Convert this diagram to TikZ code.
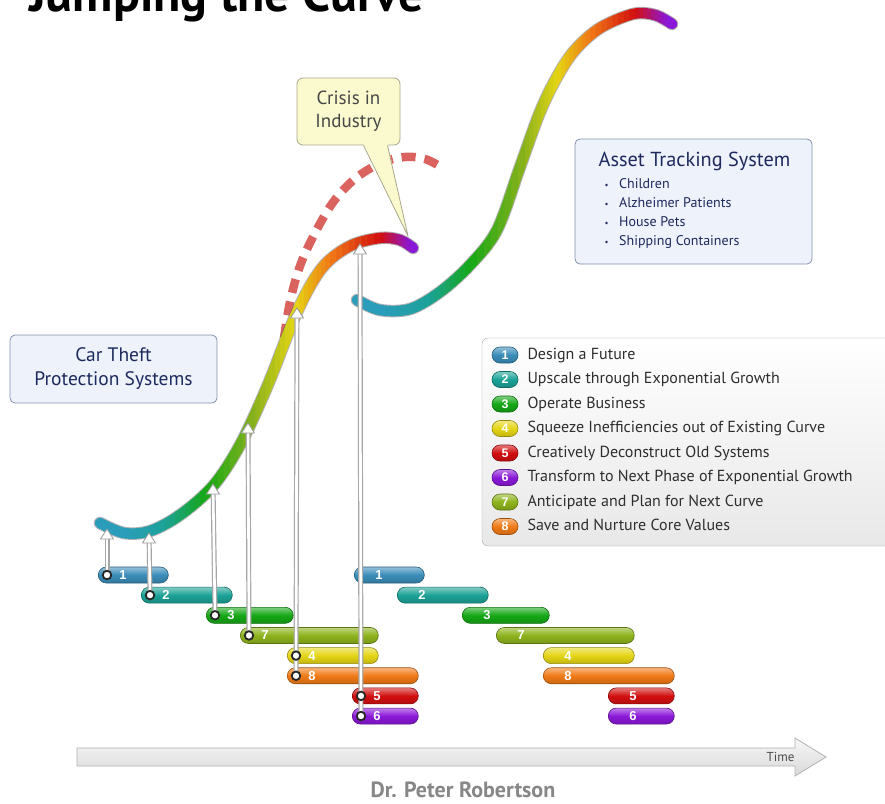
\documentclass[tikz,border=0pt]{standalone}
\usepackage{fontspec}
\setmainfont{PT Sans}
\newfontfamily\numfont{Liberation Sans}
\usetikzlibrary{positioning}
\usetikzlibrary{arrows.meta}

\definecolor{stepA}{HTML}{3A8DB9}
\definecolor{stepB}{HTML}{1BA297}
\definecolor{stepC}{HTML}{16A716}
\definecolor{stepD}{HTML}{E5D515}
\definecolor{stepE}{HTML}{D20F0F}
\definecolor{stepF}{HTML}{8A18D8}
\definecolor{stepG}{HTML}{8DB31C}
\definecolor{stepH}{HTML}{F07A16}
\definecolor{curveteal}{HTML}{2A9DBA}
\definecolor{navy}{HTML}{1E2A5E}
\definecolor{crisisred}{HTML}{DA6360}
\definecolor{noteyellow}{HTML}{FBF9CE}
\definecolor{noteedge}{HTML}{A9A78A}
\definecolor{boxfill}{HTML}{EEF2FB}
\definecolor{boxedge}{HTML}{8492AE}

% colour a stroked path by x, strip by strip
\newcommand{\rainbowstroke}[2]{%
  \foreach \xa/\xb/\ca/\cb in {#2}{
    \foreach \k in {0,...,7}{
      \pgfmathsetmacro{\sa}{\xa+(\xb-\xa)*\k/8}
      \pgfmathsetmacro{\sb}{\xa+(\xb-\xa)*(\k+1)/8+0.8}
      \pgfmathtruncatemacro{\p}{100*(\k+0.5)/8}
      \colorlet{stripcolor}{\cb!\p!\ca}
      \begin{scope}
        \clip (\sa,0) rectangle (\sb,803);
        \draw[curvebody, draw=stripcolor, use path=#1];
      \end{scope}
    }
  }%
}

\begin{document}
\begin{tikzpicture}[x=1pt, y=-1pt,
  curveedge/.style={draw=black!60, draw opacity=.5, line width=12.5pt, line cap=round},
  curvebody/.style={line width=10.5pt, line cap=round},
  pill/.style={rectangle, rounded corners=8pt, minimum height=16pt, inner sep=0pt,
    draw=#1!65!black, line width=.6pt, top color=#1!55!white, bottom color=#1!85!black,
    middle color=#1, text=white, font=\numfont\bfseries\fontsize{12.5}{12.5}\selectfont},
  barnum/.style={text=white, inner sep=0pt, font=\numfont\bfseries\fontsize{13}{13}\selectfont},
  knob/.style={circle, fill=white, draw=black!85, line width=1.8pt, minimum size=8.5pt, inner sep=0pt},
  shaft/.style={draw=black!35, line width=5pt, shorten >=8pt},
  shaftcore/.style={draw=white, line width=2.6pt, shorten >=8pt},
  head/.style={fill=white, draw=black!40, line width=.8pt, line join=round},
  infobox/.style={rectangle, rounded corners=5pt, fill=boxfill, draw=boxedge, line width=.8pt,
    text=navy, align=center},
  note/.style={rectangle, rounded corners=6pt, fill=noteyellow, draw=noteedge, line width=.8pt,
    text=black!72, align=center},
  keytext/.style={inner sep=0pt, text=black!82, text height=11pt, text depth=3pt,
    font=\fontsize{16}{16}\selectfont},
  timearrow/.style={top color=black!3, bottom color=black!15, draw=black!30, line width=.8pt},
]
\useasboundingbox (0,0) rectangle (885,803);
\clip (0,0) rectangle (885,803);
\fill[white] (0,0) rectangle (885,803);

\node[anchor=base west, inner sep=0pt, font=\bfseries\fontsize{50}{50}\selectfont] (title) at (29,12) {Jumping the Curve};

\draw[crisisred, line width=8.5pt, dash pattern=on 14pt off 9pt]
  plot[smooth, tension=.6] coordinates {(284,338) (290,302) (300,266) (315,233) (334,201)
    (356,178) (381,163) (405,157) (425,159) (441,167)};

\path[save path=\curveone] plot[smooth, tension=.55] coordinates {(100,523) (124,533) (150,531)
  (180,515) (213,486) (240,445) (267,387) (297,312) (322,268) (350,246) (380,238) (400,240) (413,248)};
\path[save path=\curvetwo] plot[smooth, tension=.55] coordinates {(357,300) (380,310) (410,309)
  (440,292) (470,265) (497,230) (520,167) (540,112) (557,77) (575,50) (600,28) (633,14) (655,15) (672,24)};

\draw[curveedge, use path=\curveone];
\rainbowstroke{\curveone}{90/125/curveteal/curveteal, 125/165/curveteal/stepB, 165/205/stepB/stepC,
  205/255/stepC/stepG, 255/295/stepG/stepD, 295/330/stepD/stepH, 330/380/stepH/stepE,
  380/410/stepE/stepF, 410/425/stepF/stepF}
\draw[curveedge, use path=\curvetwo];
\rainbowstroke{\curvetwo}{345/385/curveteal/curveteal, 385/430/curveteal/stepB, 430/470/stepB/stepC,
  470/525/stepC/stepG, 525/557/stepG/stepD, 557/590/stepD/stepH, 590/635/stepH/stepE,
  635/667/stepE/stepF, 667/685/stepF/stepF}

\coordinate (tipA) at (107,529);
\coordinate (tipB) at (149,533);
\coordinate (tipC) at (213,484);
\coordinate (tipD) at (248,423);
\coordinate (tipE) at (297,308);
\coordinate (tipF) at (360,244);
\coordinate (crisistip) at (408,236);

\node[note, minimum width=103pt, minimum height=67pt, font=\fontsize{19}{23}\selectfont]
  (crisis) at (348.5,111.5) {Crisis in\\Industry};
\fill[noteyellow] ([xshift=15pt, yshift=2pt]crisis.south) -- (crisistip)
  -- ([xshift=39pt, yshift=2pt]crisis.south) -- cycle;
\draw[noteedge, line width=.8pt, line join=round] ([xshift=15pt]crisis.south) -- (crisistip)
  -- ([xshift=39pt]crisis.south);

\node[infobox, minimum width=207pt, minimum height=68pt, font=\fontsize{19.5}{24}\selectfont]
  (carbox) at (113.5,369) {Car Theft\\Protection Systems};

\node[infobox, minimum width=237pt, minimum height=125pt] (asset) at (693.5,201.5) {};
\node[text=navy, font=\fontsize{20.3}{20.3}\selectfont] (assettitle) at (694.5,161) {Asset Tracking System};
\foreach \item [count=\i] in {Children, Alzheimer Patients, House Pets, Shipping Containers}{
  \node[anchor=west, inner sep=0pt, text=navy, text height=10pt, text depth=3pt,
    font=\fontsize{14}{14}\selectfont] (asset\i) at (619,166+19*\i) {\item};
  \fill[navy] ([xshift=-12.5pt]asset\i.west) circle (1.4pt);
}

\draw[rounded corners=6pt, draw=black!35, top color=white, bottom color=black!9]
  (482,338) rectangle (905,546);
\foreach \n/\c/\txt [count=\i from 0] in {1/stepA/Design a Future,
    2/stepB/Upscale through Exponential Growth, 3/stepC/Operate Business,
    4/stepD/Squeeze Inefficiencies out of Existing Curve, 5/stepE/Creatively Deconstruct Old Systems,
    6/stepF/Transform to Next Phase of Exponential Growth, 7/stepG/Anticipate and Plan for Next Curve,
    8/stepH/Save and Nurture Core Values}{
  \node[pill=\c, minimum width=26pt] (key\n) at (505,355+24.5*\i) {\n};
  \node[keytext, right=9pt of key\n] (keytext\n) {\txt};
}

\foreach \n/\c/\xl/\w [count=\r from 0] in {1/stepA/98/70, 2/stepB/141/91, 3/stepC/206/87,
    7/stepG/240/138, 4/stepD/287/91, 8/stepH/287/131, 5/stepE/352/66, 6/stepF/352/66}{
  \foreach \g/\dx in {L/0, R/256}{
    \node[pill=\c, minimum width=\w pt, anchor=west] (bar\g\n) at (\xl+\dx,575+20.15*\r) {};
    \node[barnum] (num\g\n) at ([xshift=25pt]bar\g\n.west) {\n};
  }
  \coordinate (knob\n) at ([xshift=9pt]barL\n.west);
}

\foreach \n/\t in {1/tipA, 2/tipB, 3/tipC, 7/tipD, 8/tipE, 6/tipF}{
  \draw[shaft] (knob\n) -- (\t);
  \draw[shaftcore] (knob\n) -- (\t);
  \draw[head] (\t) -- ++(-6.5,10) -- ++(13,0) -- cycle;
}
\foreach \n in {1,...,8}
  \node[knob] (dot\n) at (knob\n) {};

\draw[timearrow] (77,748) -- (795,748) -- (795,738) -- (826,757) -- (795,776) -- (795,766)
  -- (77,766) -- cycle;
\node[anchor=east, text=black!70, font=\fontsize{13}{13}\selectfont] (timelabel) at (798,757) {Time};
\node[anchor=base, inner sep=0pt, text=black!47, font=\bfseries\fontsize{22}{22}\selectfont]
  (author) at (463,797) {Dr. Peter Robertson};
\end{tikzpicture}
\end{document}
